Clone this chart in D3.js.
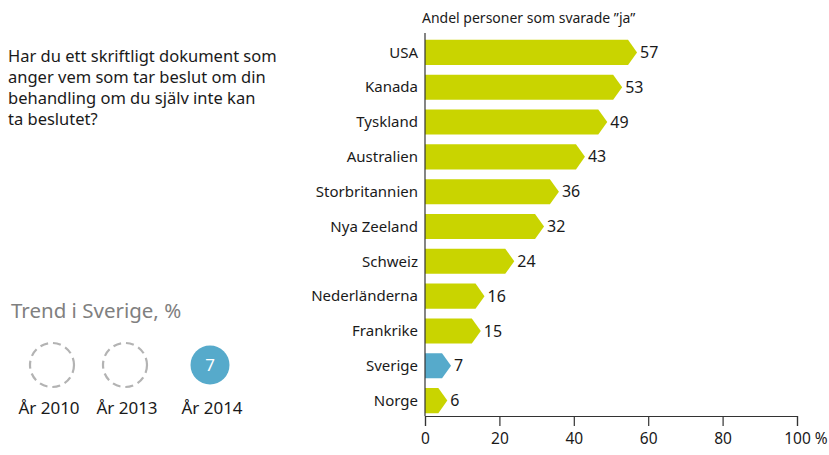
<!DOCTYPE html>
<html><head><meta charset="utf-8">
<script src="https://cdn.jsdelivr.net/npm/d3@7"></script>
<style>body{margin:0;background:#fff}svg{display:block}text{font-family:"Noto Sans",sans-serif;fill:#1a1a1a}</style>
</head><body>
<script>
const countries = ["USA","Kanada","Tyskland","Australien","Storbritannien","Nya Zeeland","Schweiz","Nederländerna","Frankrike","Sverige","Norge"];
const values = [57,53,49,43,36,32,24,16,15,7,6];
const highlight = "Sverige";
const ticks = [0,20,40,60,80,100];
const trendYears = ["År 2010","År 2013","År 2014"];
const trendValues = [null,null,7];
const question = ["Har du ett skriftligt dokument som","anger vem som tar beslut om din","behandling om du själv inte kan","ta beslutet?"];
const chartTitle = "Andel personer som svarade ”ja”";

const W=829,H=455;
const svg=d3.select("body").append("svg").attr("width",W).attr("height",H);
const x=d3.scaleLinear().domain([0,100]).range([425,797]);
const y=d3.scaleBand().domain(countries).range([35,418]).paddingInner(0.28).paddingOuter(0.14);
const green="#c9d400", blue="#56aacb";
const ff="'Noto Sans',sans-serif";

svg.append("text").attr("x",422).attr("y",23).attr("font-size",14).text(chartTitle);

const depth=9;
svg.append("g").selectAll("path").data(countries).join("path")
 .attr("d",(c,i)=>{const x0=x(0),x1=x(values[i]),t=y(c),b=t+y.bandwidth(),m=t+y.bandwidth()/2;
   return `M${x0},${t}H${x1-depth}L${x1},${m}L${x1-depth},${b}H${x0}Z`;})
 .attr("fill",c=>c===highlight?blue:green);

svg.append("g").selectAll("text").data(countries).join("text")
 .attr("x",418).attr("y",c=>y(c)+y.bandwidth()/2).attr("dy","0.35em")
 .attr("text-anchor","end").attr("font-size",15).text(c=>c);

svg.append("g").selectAll("text").data(countries).join("text")
 .attr("x",(c,i)=>x(values[i])+3).attr("y",c=>y(c)+y.bandwidth()/2).attr("dy","0.35em")
 .attr("font-size",16).text((c,i)=>values[i]);

// axes
svg.append("line").attr("x1",x(0)).attr("x2",x(0)).attr("y1",33).attr("y2",416).attr("stroke","#333").attr("stroke-width",1.2);
const ax=svg.append("g").attr("transform","translate(0,416)")
 .call(d3.axisBottom(x).tickValues(ticks).tickSize(10).tickPadding(7).tickFormat(d=>d));
ax.select(".domain").attr("stroke","#333").attr("stroke-width",1.2);
ax.selectAll(".tick line").attr("stroke","#333").attr("stroke-width",1.2);
ax.selectAll(".tick text").attr("font-size",15.5).attr("font-family",ff).attr("fill","#1a1a1a");
ax.selectAll(".tick text").filter(d=>d===100).each(function(){
  const t=d3.select(this); const w=this.getComputedTextLength();
  t.attr("text-anchor","start").attr("x",-w/2).append("tspan").text(" %");
});

// question
svg.append("g").selectAll("text").data(question).join("text")
 .attr("x",8).attr("y",(d,i)=>62+i*21).attr("font-size",16.5).text(d=>d);

svg.append("text").attr("x",11).attr("y",318).attr("font-size",20.5).style("fill","#808080").text("Trend i Sverige, %");

const cx=[52,125,210];
const lx=[49,127,212];
const tg=svg.append("g");
trendYears.forEach((yr,i)=>{
  if(trendValues[i]==null){
    tg.append("circle").attr("cx",cx[i]).attr("cy",365).attr("r",22).attr("fill","none")
      .attr("stroke","#b3b3b3").attr("stroke-width",2.2).attr("stroke-dasharray","8,5");
  } else {
    tg.append("circle").attr("cx",cx[i]).attr("cy",365).attr("r",19.5).attr("fill",blue);
    tg.append("text").attr("x",cx[i]).attr("y",365).attr("dy","0.35em").attr("text-anchor","middle")
      .attr("font-size",17).style("fill","#fff").text(trendValues[i]);
  }
  tg.append("text").attr("x",lx[i]).attr("y",414).attr("text-anchor","middle").attr("font-size",17).text(yr);
});
</script>
</body></html>
